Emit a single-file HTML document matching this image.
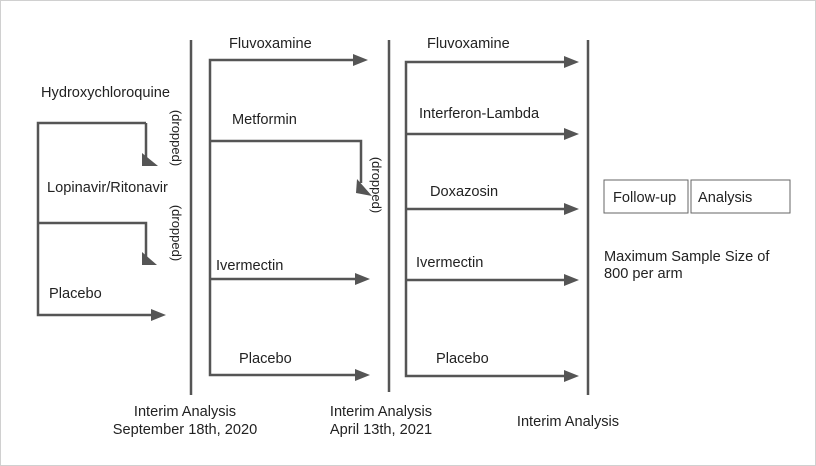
<!DOCTYPE html>
<html><head><meta charset="utf-8"><style>
html,body{margin:0;padding:0;background:#fff;}
svg{display:block;}
text{font-family:"Liberation Sans",Arial,sans-serif;font-size:14.6px;fill:#222;}
</style></head><body>
<svg width="816" height="466" viewBox="0 0 816 466" xmlns="http://www.w3.org/2000/svg">
<rect x="0.5" y="0.5" width="815" height="465" fill="#fff" stroke="#d0d0d0"/>
<g stroke="#555" stroke-width="2.5" fill="none">
<line x1="191" y1="40" x2="191" y2="395"/>
<line x1="389" y1="40" x2="389" y2="392"/>
<line x1="588" y1="40" x2="588" y2="395"/>
<polyline points="146,123 38,123 38,315 152,315"/>
<polyline points="38,223 146,223 146,258"/>
<polyline points="146,123 146,158"/>
<polyline points="355,60 210,60 210,375 356,375"/>
<polyline points="210,141 361,141 361,183"/>
<line x1="210" y1="279" x2="356" y2="279"/>
<polyline points="565,62 406,62 406,376 566,376"/>
<line x1="406" y1="134" x2="566" y2="134"/>
<line x1="406" y1="209" x2="566" y2="209"/>
<line x1="406" y1="280" x2="566" y2="280"/>
</g>
<g fill="#555">
<polygon points="142,153 142,166 158,166"/>
<polygon points="142,252 142,265 157,265"/>
<polygon points="357,179 356,193 372,196"/>
<polygon points="151,309 166,315 151,321"/>
<polygon points="353,54 368,60 353,66"/>
<polygon points="355,273 370,279 355,285"/>
<polygon points="355,369 370,375 355,381"/>
<polygon points="564,56 579,62 564,68"/>
<polygon points="564,128 579,134 564,140"/>
<polygon points="564,203 579,209 564,215"/>
<polygon points="564,274 579,280 564,286"/>
<polygon points="564,370 579,376 564,382"/>
</g>
<rect x="604" y="180" width="84" height="33" fill="none" stroke="#666" stroke-width="1"/>
<rect x="691" y="180" width="99" height="33" fill="none" stroke="#666" stroke-width="1"/>
<text x="613" y="202">Follow-up</text>
<text x="698" y="202">Analysis</text>
<text x="604" y="261">Maximum Sample Size of</text>
<text x="604" y="278">800 per arm</text>
<text x="41" y="97">Hydroxychloroquine</text>
<text x="47" y="192">Lopinavir/Ritonavir</text>
<text x="49" y="298">Placebo</text>
<text x="229" y="48">Fluvoxamine</text>
<text x="232" y="124">Metformin</text>
<text x="216" y="270">Ivermectin</text>
<text x="239" y="363">Placebo</text>
<text x="427" y="48">Fluvoxamine</text>
<text x="419" y="118">Interferon-Lambda</text>
<text x="430" y="196">Doxazosin</text>
<text x="416" y="267">Ivermectin</text>
<text x="436" y="363">Placebo</text>
<text transform="translate(172,138) rotate(90)" text-anchor="middle" style="font-size:13px">(dropped)</text>
<text transform="translate(172,233) rotate(90)" text-anchor="middle" style="font-size:13px">(dropped)</text>
<text transform="translate(372,185) rotate(90)" text-anchor="middle" style="font-size:13px">(dropped)</text>
<text x="185" y="416" text-anchor="middle">Interim Analysis</text>
<text x="185" y="434" text-anchor="middle">September 18th, 2020</text>
<text x="381" y="416" text-anchor="middle">Interim Analysis</text>
<text x="381" y="434" text-anchor="middle">April 13th, 2021</text>
<text x="568" y="426" text-anchor="middle">Interim Analysis</text>
</svg>
</body></html>
